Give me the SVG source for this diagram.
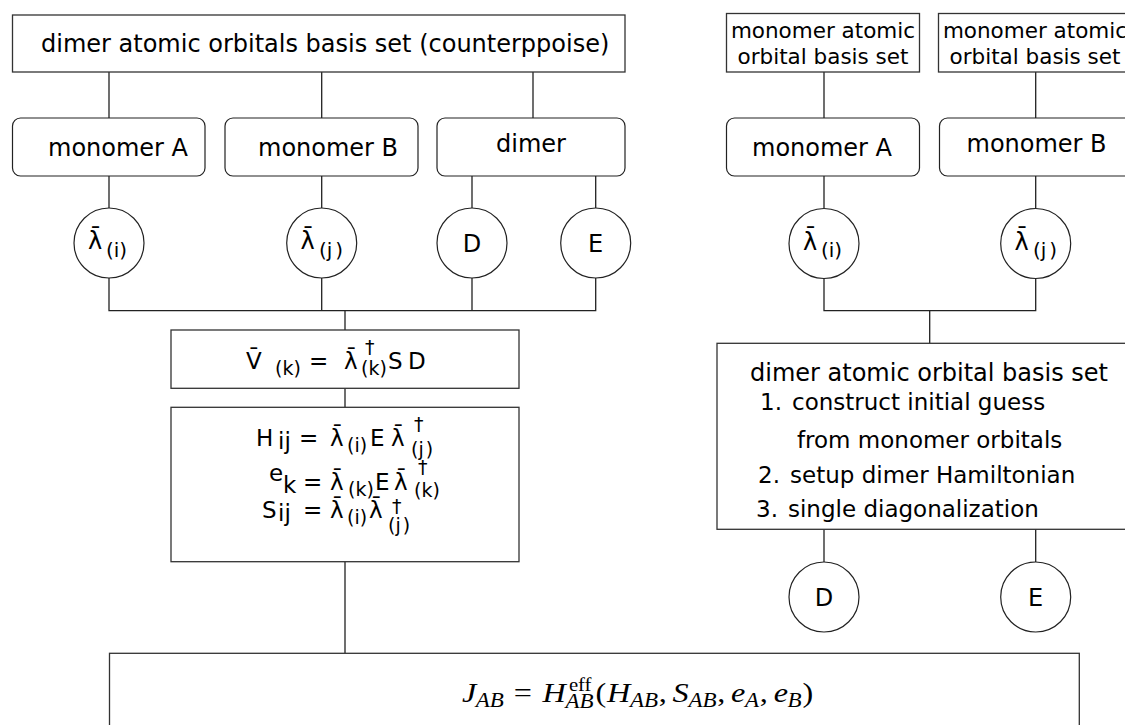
<svg xmlns="http://www.w3.org/2000/svg" width="1125" height="725" viewBox="0 0 1125 725">
<style>
.box{fill:#fff;stroke:#333;stroke-width:1.3}
.rbox{fill:#fff;stroke:#222;stroke-width:1.2}
.circ{fill:#fff;stroke:#222;stroke-width:1.2}
.line{fill:none;stroke:#222;stroke-width:1.3}
text{font-family:"DejaVu Sans",sans-serif;fill:#000}
.lbl{font-size:24px}
.sm{font-size:21.5px}
.eq{font-size:23px}
.li{font-size:23px}
.sub{font-size:19px}
.cs{font-size:20px}
.m{font-family:"Liberation Serif",serif;font-size:28px}
.mi{font-family:"Liberation Serif",serif;font-size:28px;font-style:italic}
.ms{font-family:"Liberation Serif",serif;font-size:20px;font-style:italic}
.mu{font-family:"Liberation Serif",serif;font-size:18px}
</style>
<rect width="1125" height="725" fill="#fff"/>
<g id="connectors">
<path class="line" d="M109 72V118M321.7 72V118M533 72V118"/>
<path class="line" d="M109 176V208M321.7 176V208M472 176V208M595.7 176V208"/>
<path class="line" d="M109 278V310.7H595.7V278M321.7 278V310.7M472 278V310.7M345 310.7V330"/>
<path class="line" d="M345 388.3V407.3M345 561.7V653.3"/>
<path class="line" d="M824 72V118M1035.7 72V118M824 176V208M1035.7 176V208"/>
<path class="line" d="M824 278V310.7H1035.7V278M929.7 310.7V343.3"/>
<path class="line" d="M824 529.3V562M1035.7 529.3V562"/>
</g>
<g id="top-basis">
<rect class="box" x="12.5" y="15" width="612.5" height="57"/>
<text class="lbl" x="41" y="52.3">dimer atomic orbitals basis set (counterppoise)</text>
</g>
<g id="monomerA-left">
<rect class="rbox" x="12.5" y="118" width="192.5" height="58" rx="8"/>
<text class="lbl" x="48" y="156">monomer A</text>
</g>
<g id="monomerB-left">
<rect class="rbox" x="225" y="118" width="193" height="58" rx="8"/>
<text class="lbl" x="258" y="156">monomer B</text>
</g>
<g id="dimer-left">
<rect class="rbox" x="437" y="118" width="188" height="58" rx="8"/>
<text class="lbl" x="496" y="151.5">dimer</text>
</g>
<g id="lambda-i-left">
<circle class="circ" cx="109" cy="243" r="35"/>
<text class="lbl" x="88" y="249">λ̄</text>
<text class="cs" x="106" y="256.5">(i)</text>
</g>
<g id="lambda-j-left">
<circle class="circ" cx="321.7" cy="243" r="35"/>
<text class="lbl" x="300.5" y="249">λ̄</text>
<text class="cs" x="319" y="256.5">(j<tspan dx="3">)</tspan></text>
</g>
<g id="D-left">
<circle class="circ" cx="472" cy="243" r="35"/>
<text class="lbl" x="472" y="251.5" text-anchor="middle">D</text>
</g>
<g id="E-left">
<circle class="circ" cx="595.7" cy="243" r="35"/>
<text class="lbl" x="595.7" y="251.5" text-anchor="middle">E</text>
</g>
<g id="V-box">
<rect class="box" x="171" y="330" width="348" height="58.3"/>
<text class="eq" x="246" y="369">V̄</text>
<text class="sub" x="275" y="375">(k)</text>
<text class="eq" x="309" y="369">=</text>
<text class="eq" x="344" y="369">λ̄</text>
<text class="sub" x="365" y="354">†</text>
<text class="sub" x="361" y="375">(k)</text>
<text class="eq" x="388" y="369">S</text>
<text class="eq" x="408" y="369">D</text>
</g>
<g id="H-box">
<rect class="box" x="171" y="407.3" width="348" height="154.4"/>
<text class="eq" x="256" y="446">H</text>
<text class="eq" x="278" y="449">ij</text>
<text class="eq" x="299" y="446">=</text>
<text class="eq" x="330" y="446">λ̄</text>
<text class="sub" x="347" y="452">(i)</text>
<text class="eq" x="370" y="446">E</text>
<text class="eq" x="391" y="446">λ̄</text>
<text class="sub" x="414" y="431">†</text>
<text class="sub" x="411" y="456">(j<tspan dx="2">)</tspan></text>
<text class="eq" x="269" y="481">e</text>
<text class="eq" x="283" y="493">k</text>
<text class="eq" x="303" y="490">=</text>
<text class="eq" x="330" y="490">λ̄</text>
<text class="sub" x="348" y="496">(k)</text>
<text class="eq" x="375" y="490">E</text>
<text class="eq" x="394" y="490">λ̄</text>
<text class="sub" x="418" y="474">†</text>
<text class="sub" x="414" y="497">(k)</text>
<text class="eq" x="262" y="518">S</text>
<text class="eq" x="278" y="521">ij</text>
<text class="eq" x="303" y="518">=</text>
<text class="eq" x="330" y="518">λ̄</text>
<text class="sub" x="347" y="524">(i)</text>
<text class="eq" x="369" y="518">λ̄</text>
<text class="sub" x="392" y="513">†</text>
<text class="sub" x="388" y="532">(j<tspan dx="2">)</tspan></text>
</g>
<g id="result-box">
<rect class="box" x="109.5" y="653.3" width="969.8" height="90"/>
<g transform="translate(462 0) scale(1.15 1) translate(-458 0)">
<text class="mi" x="458" y="702">J</text>
<text class="ms" x="470" y="707">AB</text>
<text class="m" x="503" y="702">=</text>
<text class="mi" x="528" y="702">H</text>
<text class="mu" x="551" y="691">eff</text>
<text class="ms" x="548" y="708">AB</text>
<text class="m" x="574" y="702">(</text>
<text class="mi" x="584" y="702">H</text>
<text class="ms" x="604" y="707">AB</text>
<text class="m" x="629" y="702">,</text>
<text class="mi" x="641" y="702">S</text>
<text class="ms" x="655" y="707">AB</text>
<text class="m" x="680" y="702">,</text>
<text class="mi" x="692" y="702">e</text>
<text class="ms" x="704" y="707">A</text>
<text class="m" x="717" y="702">,</text>
<text class="mi" x="729" y="702">e</text>
<text class="ms" x="741" y="707">B</text>
<text class="m" x="754" y="702">)</text>
</g>
</g>
<g id="mono-basis-A">
<rect class="box" x="726.5" y="13.5" width="193" height="58.5"/>
<text class="sm" x="823" y="37.5" text-anchor="middle">monomer atomic</text>
<text class="sm" x="823" y="64" text-anchor="middle">orbital basis set</text>
</g>
<g id="mono-basis-B">
<rect class="box" x="938.5" y="13.5" width="193" height="58.5"/>
<text class="sm" x="1035" y="37.5" text-anchor="middle">monomer atomic</text>
<text class="sm" x="1035" y="64" text-anchor="middle">orbital basis set</text>
</g>
<g id="monomerA-right">
<rect class="rbox" x="726.5" y="118" width="193" height="58" rx="8"/>
<text class="lbl" x="752" y="156">monomer A</text>
</g>
<g id="monomerB-right">
<rect class="rbox" x="939.5" y="118" width="193" height="58" rx="8"/>
<text class="lbl" x="966.5" y="151.5">monomer B</text>
</g>
<g id="lambda-i-right">
<circle class="circ" cx="824" cy="243.5" r="35"/>
<text class="lbl" x="803" y="249.5">λ̄</text>
<text class="cs" x="821" y="257">(i)</text>
</g>
<g id="lambda-j-right">
<circle class="circ" cx="1035.7" cy="243.5" r="35"/>
<text class="lbl" x="1014.5" y="249.5">λ̄</text>
<text class="cs" x="1033" y="257">(j<tspan dx="3">)</tspan></text>
</g>
<g id="dimer-basis-right">
<rect class="box" x="717" y="343.3" width="420" height="186"/>
<text class="lbl" x="750" y="381">dimer atomic orbital basis set</text>
<text class="li" x="760" y="410">1.</text>
<text class="li" x="792" y="410">construct initial guess</text>
<text class="li" x="797" y="447.7">from monomer orbitals</text>
<text class="li" x="758" y="482.7">2.</text>
<text class="li" x="790" y="482.7">setup dimer Hamiltonian</text>
<text class="li" x="756" y="516.7">3.</text>
<text class="li" x="788" y="516.7">single diagonalization</text>
</g>
<g id="D-right">
<circle class="circ" cx="824" cy="597" r="35"/>
<text class="lbl" x="824" y="605.5" text-anchor="middle">D</text>
</g>
<g id="E-right">
<circle class="circ" cx="1035.7" cy="597" r="35"/>
<text class="lbl" x="1035.7" y="605.5" text-anchor="middle">E</text>
</g>
</svg>
